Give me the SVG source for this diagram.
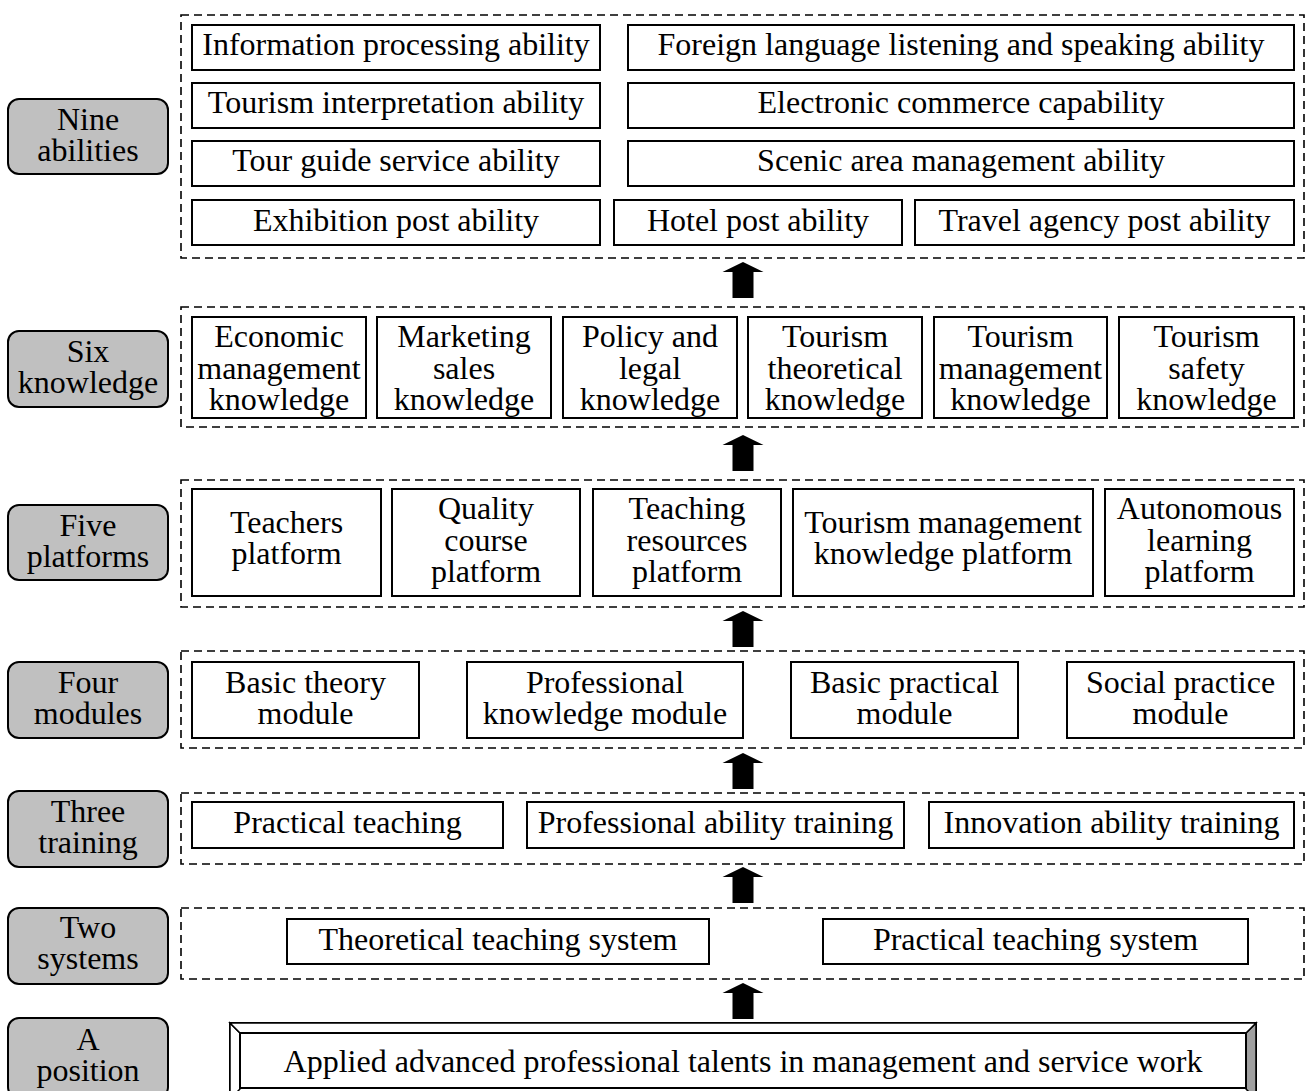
<svg xmlns="http://www.w3.org/2000/svg" width="1307" height="1091" viewBox="0 0 1307 1091">
<defs>
<style>
text{font-family:"Liberation Serif","Times New Roman",serif;font-size:32px;fill:#000;text-anchor:middle}
.box{fill:#fff;stroke:#000;stroke-width:2}
.lab{fill:#c0c0c0;stroke:#000;stroke-width:2}
.frame{fill:none;stroke:#000;stroke-width:1.6;stroke-dasharray:8 5}
.arrow{fill:#000}
</style>
<path id="arr" d="M0,0 L20.5,10 L10.5,10 L10.5,36 L-10.5,36 L-10.5,10 L-20.5,10 Z"/>
</defs>
<rect width="1307" height="1091" fill="#fff"/>

<!-- Left labels -->
<g id="label-nine"><rect class="lab" x="8" y="99" width="160" height="75" rx="11"/><text x="88" y="130">Nine</text><text x="88" y="161">abilities</text></g>
<g id="label-six"><rect class="lab" x="8" y="331" width="160" height="76" rx="11"/><text x="88" y="362">Six</text><text x="88" y="393">knowledge</text></g>
<g id="label-five"><rect class="lab" x="8" y="505" width="160" height="75" rx="11"/><text x="88" y="536">Five</text><text x="88" y="567">platforms</text></g>
<g id="label-four"><rect class="lab" x="8" y="662" width="160" height="76" rx="11"/><text x="88" y="693">Four</text><text x="88" y="724">modules</text></g>
<g id="label-three"><rect class="lab" x="8" y="791" width="160" height="76" rx="11"/><text x="88" y="822">Three</text><text x="88" y="853">training</text></g>
<g id="label-two"><rect class="lab" x="8" y="908" width="160" height="76" rx="11"/><text x="88" y="938">Two</text><text x="88" y="969">systems</text></g>
<g id="label-a"><rect class="lab" x="8" y="1018" width="160" height="80" rx="11"/><text x="88" y="1050">A</text><text x="88" y="1081">position</text></g>

<!-- Frames -->
<g id="frames">
<rect class="frame" x="181" y="15" width="1123" height="243"/>
<rect class="frame" x="181" y="307" width="1123" height="120"/>
<rect class="frame" x="181" y="480" width="1123" height="127"/>
<rect class="frame" x="181" y="651" width="1123" height="97"/>
<rect class="frame" x="181" y="793" width="1123" height="71"/>
<rect class="frame" x="181" y="908" width="1123" height="71"/>
</g>

<!-- Nine abilities -->
<g id="n-info"><rect class="box" x="192" y="25" width="408" height="45"/><text x="396" y="55">Information processing ability</text></g>
<g id="n-foreign"><rect class="box" x="628" y="25" width="666" height="45"/><text x="961" y="55">Foreign language listening and speaking ability</text></g>
<g id="n-interp"><rect class="box" x="192" y="83" width="408" height="45"/><text x="396" y="113">Tourism interpretation ability</text></g>
<g id="n-ecom"><rect class="box" x="628" y="83" width="666" height="45"/><text x="961" y="113">Electronic commerce capability</text></g>
<g id="n-guide"><rect class="box" x="192" y="141" width="408" height="45"/><text x="396" y="171">Tour guide service ability</text></g>
<g id="n-scenic"><rect class="box" x="628" y="141" width="666" height="45"/><text x="961" y="171">Scenic area management ability</text></g>
<g id="n-exhib"><rect class="box" x="192" y="200" width="408" height="45"/><text x="396" y="231">Exhibition post ability</text></g>
<g id="n-hotel"><rect class="box" x="614" y="200" width="288" height="45"/><text x="758" y="231">Hotel post ability</text></g>
<g id="n-travel"><rect class="box" x="915" y="200" width="379" height="45"/><text x="1104.5" y="231">Travel agency post ability</text></g>

<!-- Six knowledge -->
<g id="k-econ"><rect class="box" x="192" y="317" width="174" height="101"/><text x="279" y="347">Economic</text><text x="279" y="379">management</text><text x="279" y="410">knowledge</text></g>
<g id="k-mark"><rect class="box" x="377" y="317" width="174" height="101"/><text x="464" y="347">Marketing</text><text x="464" y="379">sales</text><text x="464" y="410">knowledge</text></g>
<g id="k-policy"><rect class="box" x="563" y="317" width="174" height="101"/><text x="650" y="347">Policy and</text><text x="650" y="379">legal</text><text x="650" y="410">knowledge</text></g>
<g id="k-theory"><rect class="box" x="748" y="317" width="174" height="101"/><text x="835" y="347">Tourism</text><text x="835" y="379">theoretical</text><text x="835" y="410">knowledge</text></g>
<g id="k-manage"><rect class="box" x="934" y="317" width="173" height="101"/><text x="1020.5" y="347">Tourism</text><text x="1020.5" y="379">management</text><text x="1020.5" y="410">knowledge</text></g>
<g id="k-safety"><rect class="box" x="1119" y="317" width="175" height="101"/><text x="1206.5" y="347">Tourism</text><text x="1206.5" y="379">safety</text><text x="1206.5" y="410">knowledge</text></g>

<!-- Five platforms -->
<g id="p-teach"><rect class="box" x="192" y="489" width="189" height="107"/><text x="286.5" y="533">Teachers</text><text x="286.5" y="564">platform</text></g>
<g id="p-quality"><rect class="box" x="392" y="489" width="188" height="107"/><text x="486" y="519">Quality</text><text x="486" y="551">course</text><text x="486" y="582">platform</text></g>
<g id="p-res"><rect class="box" x="593" y="489" width="188" height="107"/><text x="687" y="519">Teaching</text><text x="687" y="551">resources</text><text x="687" y="582">platform</text></g>
<g id="p-tkm"><rect class="box" x="793" y="489" width="300" height="107"/><text x="943" y="533">Tourism management</text><text x="943" y="564">knowledge platform</text></g>
<g id="p-auto"><rect class="box" x="1105" y="489" width="189" height="107"/><text x="1199.5" y="519">Autonomous</text><text x="1199.5" y="551">learning</text><text x="1199.5" y="582">platform</text></g>

<!-- Four modules -->
<g id="m-basic"><rect class="box" x="192" y="662" width="227" height="76"/><text x="305.5" y="693">Basic theory</text><text x="305.5" y="724">module</text></g>
<g id="m-prof"><rect class="box" x="467" y="662" width="276" height="76"/><text x="605" y="693">Professional</text><text x="605" y="724">knowledge module</text></g>
<g id="m-bprac"><rect class="box" x="791" y="662" width="227" height="76"/><text x="904.5" y="693">Basic practical</text><text x="904.5" y="724">module</text></g>
<g id="m-social"><rect class="box" x="1067" y="662" width="227" height="76"/><text x="1180.5" y="693">Social practice</text><text x="1180.5" y="724">module</text></g>

<!-- Three training -->
<g id="t-prac"><rect class="box" x="192" y="802" width="311" height="46"/><text x="347.5" y="833">Practical teaching</text></g>
<g id="t-prof"><rect class="box" x="527" y="802" width="377" height="46"/><text x="715.5" y="833">Professional ability training</text></g>
<g id="t-innov"><rect class="box" x="929" y="802" width="365" height="46"/><text x="1111.5" y="833">Innovation ability training</text></g>

<!-- Two systems -->
<g id="s-theory"><rect class="box" x="287" y="919" width="422" height="45"/><text x="498" y="950">Theoretical teaching system</text></g>
<g id="s-prac"><rect class="box" x="823" y="919" width="425" height="45"/><text x="1035.5" y="950">Practical teaching system</text></g>

<!-- A position -->
<g id="position">
<rect x="230" y="1023" width="1026" height="76" fill="#fff" stroke="#000" stroke-width="2"/>
<polygon points="1246,1033 1256,1023 1256,1099 1246,1089" fill="#a0a0a0" stroke="#000" stroke-width="1.5"/>
<polygon points="230,1023 240,1033 240,1089 230,1099" fill="#fff" stroke="#000" stroke-width="1.5"/>
<polygon points="230,1023 1256,1023 1246,1033 240,1033" fill="#fff" stroke="#000" stroke-width="1.5"/>
<rect x="240" y="1033" width="1006" height="55" fill="#fff" stroke="#000" stroke-width="2"/>
<text x="743" y="1072">Applied advanced professional talents in management and service work</text>
</g>

<!-- Connectors -->
<g id="connectors" class="arrow">
<use href="#arr" x="743" y="262"/>
<use href="#arr" x="743" y="435"/>
<use href="#arr" x="743" y="611"/>
<use href="#arr" x="743" y="753"/>
<use href="#arr" x="743" y="867"/>
<use href="#arr" x="743" y="983"/>
</g>
</svg>
